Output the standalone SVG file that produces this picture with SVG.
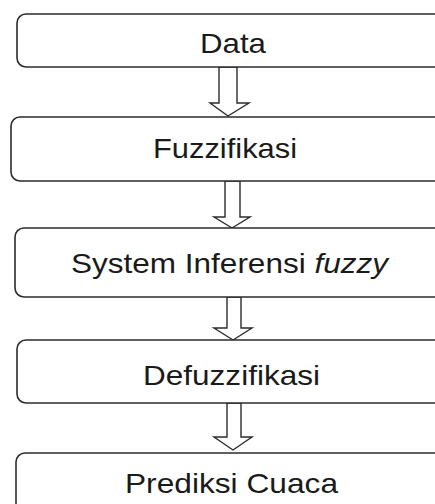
<svg xmlns="http://www.w3.org/2000/svg" width="435" height="504" viewBox="0 0 435 504">
  <style>
    .box { fill: #ffffff; stroke: #2b2b2b; stroke-width: 1.6; }
    .arrow { fill: #ffffff; stroke: #2b2b2b; stroke-width: 1.4; stroke-linejoin: miter; }
    .label { font-family: "Liberation Sans", Arial, sans-serif; font-size: 28px; fill: #1a1a1a; text-anchor: middle; }
  </style>
  <rect width="435" height="504" fill="#ffffff"/>

  <g id="connectors">
    <path class="arrow" d="M219,67 L237,67 L237,103 L249,103 L228,116 L210,103 L219,103 Z"/>
    <path class="arrow" d="M225,181 L240,181 L240,217 L250,217 L232,228 L214,217 L225,217 Z"/>
    <path class="arrow" d="M227,297 L241,297 L241,328 L252,328 L233,340 L214,328 L227,328 Z"/>
    <path class="arrow" d="M227,403 L241,403 L241,437 L252,437 L233,450 L214,437 L227,437 Z"/>
  </g>

  <g id="data">
    <rect class="box" x="17" y="14" width="440" height="53" rx="9"/>
    <text class="label" x="233" y="53" textLength="66" lengthAdjust="spacingAndGlyphs">Data</text>
  </g>

  <g id="fuzzifikasi">
    <rect class="box" x="11" y="117" width="446" height="64" rx="9"/>
    <text class="label" x="225" y="158" textLength="144" lengthAdjust="spacingAndGlyphs">Fuzzifikasi</text>
  </g>

  <g id="inferensi">
    <rect class="box" x="15" y="228" width="442" height="69" rx="9"/>
    <text class="label" x="229.5" y="273" textLength="317" lengthAdjust="spacingAndGlyphs">System Inferensi <tspan font-style="italic">fuzzy</tspan></text>
  </g>

  <g id="defuzzifikasi">
    <rect class="box" x="17" y="340" width="440" height="63" rx="9"/>
    <text class="label" x="231.5" y="385" textLength="177" lengthAdjust="spacingAndGlyphs">Defuzzifikasi</text>
  </g>

  <g id="prediksi">
    <rect class="box" x="16" y="453" width="441" height="70" rx="9"/>
    <text class="label" x="231.5" y="493" textLength="213" lengthAdjust="spacingAndGlyphs">Prediksi Cuaca</text>
  </g>
</svg>
